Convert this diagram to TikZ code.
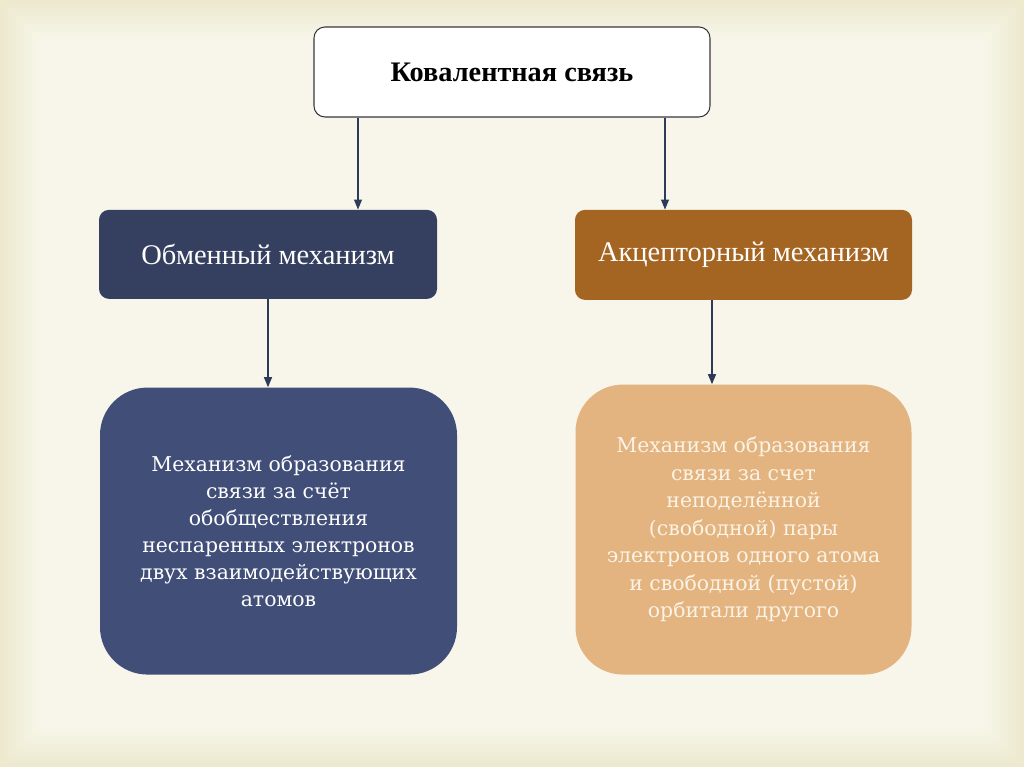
\documentclass[tikz,border=0pt]{standalone}
\usepackage{fontspec}
\setmainfont{Liberation Serif}
\newfontfamily\bodyfont{DejaVu Serif}
\usepackage{tikz}
\usetikzlibrary{arrows.meta,positioning}
\definecolor{bgedge}{RGB}{236,233,206}
\definecolor{bginner}{RGB}{248,246,235}
\definecolor{darknavy}{RGB}{53,63,96}
\definecolor{slateblue}{RGB}{64,78,120}
\definecolor{rustbrown}{RGB}{165,101,34}
\definecolor{lighttan}{RGB}{227,180,127}
\definecolor{creamtext}{RGB}{251,243,230}
\definecolor{framegray}{RGB}{62,52,62}
\definecolor{arrownavy}{RGB}{45,58,90}

\begin{document}
\begin{tikzpicture}[
  topbox/.style={rectangle, rounded corners=0.22cm, draw=framegray, semithick, fill=white,
    minimum width=7.92cm, minimum height=1.8cm, font=\fontsize{16.1}{19}\selectfont\bfseries},
  midbox/.style={rectangle, rounded corners=0.2cm, fill=darknavy, text=white,
    minimum width=6.76cm, minimum height=1.78cm, font=\fontsize{16.2}{19}\selectfont},
  descbox/.style={rectangle, rounded corners=0.95cm, fill=slateblue, text=white,
    align=center, minimum width=7.14cm, minimum height=5.74cm},
  arr/.style={-{Triangle[length=2mm, width=1.6mm]}, draw=arrownavy, semithick}
]
% background frame
\useasboundingbox (0,0) rectangle (20.48,15.34);
\foreach \i in {0,...,10}{
  \pgfmathtruncatemacro{\p}{\i*10}
  \fill[bginner!\p!bgedge] (\i*0.08,\i*0.08) rectangle (20.48-\i*0.08,15.34-\i*0.08);
}

\node[topbox] (cov) at (10.24,13.9) {Ковалентная связь};
\node[midbox, below=1.84cm of cov, xshift=-4.88cm] (obm) {Обменный механизм};
\node[midbox, fill=rustbrown, minimum width=6.74cm, minimum height=1.8cm,
  below=1.84cm of cov, xshift=4.63cm] (akc) {Акцепторный механизм};
\node[descbox, below=1.76cm of obm, xshift=0.21cm,
  font=\bodyfont\fontsize{11.6}{15.4}\selectfont] (mexl)
  {Механизм образования\\связи за счёт\\обобществления\\неспаренных электронов\\двух взаимодействующих\\атомов};
\node[descbox, fill=lighttan, text=creamtext, minimum width=6.72cm, minimum height=5.8cm,
  below=1.68cm of akc, font=\bodyfont\fontsize{11.6}{15.6}\selectfont] (mexr)
  {Механизм образования\\связи за счет\\неподелённой\\(свободной) пары\\электронов одного атома\\и свободной (пустой)\\орбитали другого};

\draw[arr] ([xshift=-3.08cm]cov.south) -- ([xshift=-3.08cm]cov.south |- obm.north);
\draw[arr] ([xshift=3.06cm]cov.south) -- ([xshift=3.06cm]cov.south |- akc.north);
\draw[arr] (obm.south) -- (obm.south |- mexl.north);
\draw[arr] ([xshift=-0.63cm]akc.south) -- ([xshift=-0.63cm]akc.south |- mexr.north);
\end{tikzpicture}
\end{document}
